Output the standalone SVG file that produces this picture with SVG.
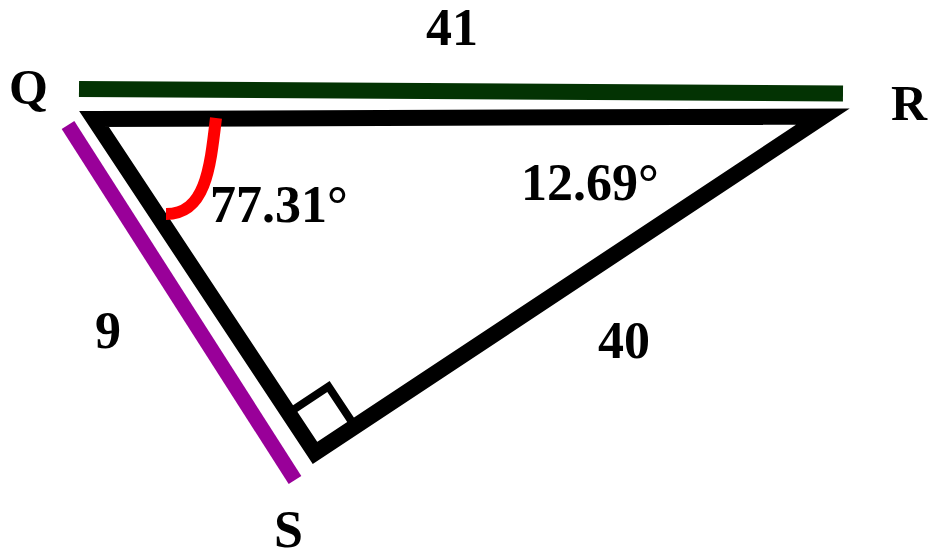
<svg xmlns="http://www.w3.org/2000/svg" width="928" height="560" viewBox="0 0 928 560">
  <style>
    .lbl { font-family: "Liberation Serif", "Times New Roman", serif; font-weight: bold; fill: #000; }
    .big { font-size: 52px; }
    .vtx { font-size: 50px; }
  </style>
  <rect x="0" y="0" width="928" height="560" fill="#ffffff"/>
  <g id="sides">
    <line id="side-QR" x1="79" y1="89" x2="843" y2="93.5" stroke="#033303" stroke-width="16"/>
    <line id="side-QS" x1="68" y1="125" x2="295" y2="480" stroke="#990099" stroke-width="15"/>
  </g>
  <g id="triangle">
    <polygon points="94,119 823,116.5 315,453" fill="none" stroke="#000" stroke-width="16" stroke-linejoin="miter"/>
    <polyline points="288.5,413 328.5,386.5 355,426.5" fill="none" stroke="#000" stroke-width="8" stroke-linejoin="miter"/>
  </g>
  <g id="angle-Q">
    <path d="M 216 118 C 210 170, 205 214, 166 214" fill="none" stroke="#ff0000" stroke-width="12"/>
  </g>
  <g id="labels">
    <text class="lbl big" x="452" y="45" text-anchor="middle">41</text>
    <text class="lbl vtx" x="9" y="104">Q</text>
    <text class="lbl vtx" x="891" y="120">R</text>
    <text class="lbl big" x="274" y="547">S</text>
    <text class="lbl big" x="95" y="348">9</text>
    <text class="lbl big" x="598" y="358">40</text>
    <text class="lbl big" x="210" y="222">77.31°</text>
    <text class="lbl big" x="521" y="200">12.69°</text>
  </g>
</svg>
